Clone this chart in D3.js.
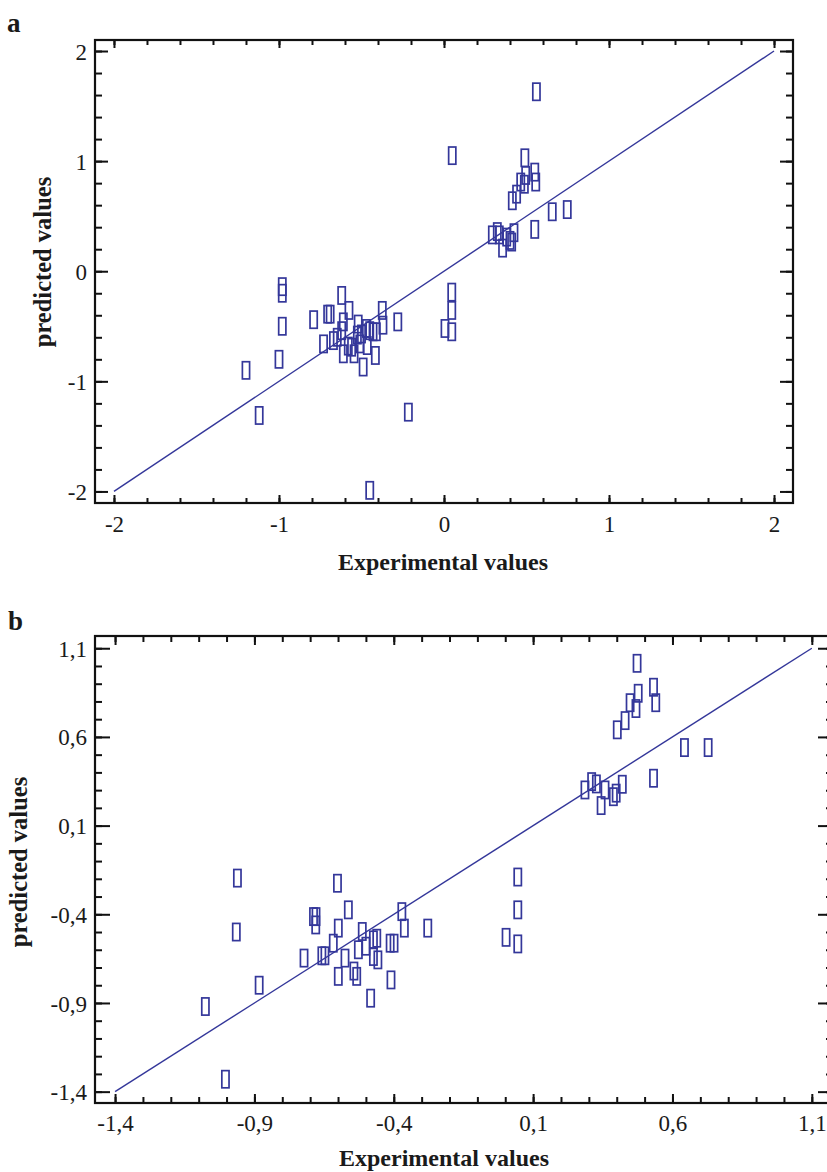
<!DOCTYPE html>
<html>
<head>
<meta charset="utf-8">
<script src="https://cdn.jsdelivr.net/npm/d3@7"></script>
<style>
  html, body { margin: 0; padding: 0; background: #fff; }
  svg { display: block; }
  text { font-family: "Liberation Serif", "Times New Roman", serif; fill: #1a1a1a; }
</style>
</head>
<body>
<svg id="chart" width="827" height="1172"></svg>
<script>
// ── panel a: experimental vs predicted ──
const aExp = [0.56, 0.49, 0.495, 0.55, 0.556, 0.465, 0.487, 0.44, 0.414, 0.656, 0.747, 0.55,
  0.293, 0.323, 0.335, 0.355, 0.38, 0.40, 0.424, 0.41, 0.05,
  -0.98, -0.98, -0.98, -1.0, -1.2, -1.12, -0.79, -0.705, -0.69, -0.73, -0.62, -0.576,
  -0.61, -0.62, -0.67, -0.647, -0.61, -0.58, -0.56, -0.545, -0.52, -0.525, -0.51, -0.50,
  -0.49, -0.47, -0.45, -0.43, -0.465, -0.416, -0.41, -0.374, -0.37, -0.28, -0.216,
  0.047, 0.047, 0.006, 0.047, -0.45];
const aPred = [1.63, 1.03, 0.87, 0.90, 0.81, 0.81, 0.79, 0.70, 0.64, 0.54, 0.56, 0.38,
  0.33, 0.36, 0.33, 0.21, 0.31, 0.28, 0.35, 0.265, 1.05,
  -0.14, -0.20, -0.50, -0.80, -0.90, -1.31, -0.44, -0.39, -0.39, -0.66, -0.22, -0.356,
  -0.46, -0.54, -0.63, -0.60, -0.75, -0.68, -0.69, -0.75, -0.48, -0.58, -0.66, -0.57,
  -0.87, -0.52, -0.54, -0.55, -0.675, -0.765, -0.55, -0.356, -0.49, -0.46, -1.28,
  -0.19, -0.356, -0.52, -0.55, -1.99];
const aTicks = [-2, -1, 0, 1, 2];

// ── panel b ──
const bExp = [0.473, 0.532, 0.477, 0.54, 0.448, 0.469, 0.43, 0.402, 0.643, 0.728, 0.532,
  0.286, 0.31, 0.327, 0.358, 0.344, 0.388, 0.398, 0.42,
  -0.961, -0.965, -0.883, -1.076, -1.004, -0.602, -0.688, -0.679, -0.68, -0.563, -0.599,
  -0.617, -0.722, -0.658, -0.647, -0.575, -0.599, -0.543, -0.533, -0.513, -0.527, -0.50,
  -0.473, -0.461, -0.473, -0.457, -0.483, -0.413, -0.399, -0.41, -0.371, -0.362, -0.278,
  0.045, 0.045, 0.003, 0.045];
const bPred = [1.015, 0.88, 0.846, 0.793, 0.793, 0.76, 0.692, 0.64, 0.54, 0.54, 0.367,
  0.301, 0.348, 0.335, 0.301, 0.213, 0.263, 0.283, 0.333,
  -0.196, -0.50, -0.80, -0.92, -1.33, -0.225, -0.413, -0.413, -0.46, -0.375, -0.478,
  -0.563, -0.647, -0.634, -0.634, -0.647, -0.75, -0.72, -0.75, -0.497, -0.60, -0.58,
  -0.544, -0.535, -0.638, -0.657, -0.873, -0.563, -0.563, -0.77, -0.385, -0.478, -0.478,
  -0.19, -0.375, -0.53, -0.567];
const bTicks = [-1.4, -0.9, -0.4, 0.1, 0.6, 1.1];

const blue = "#34379a";
const svg = d3.select("#chart");

const fmtA = d => String(d);
const fmtB = d => String(d).replace(".", ",");

function drawPanel(o) {
  const { left, top, right, bottom } = o;
  const x = d3.scaleLinear().domain(o.xDomain).range([left, right]);
  const y = d3.scaleLinear().domain(o.yDomain).range([bottom, top]);
  const g = svg.append("g");

  // ticks point inward; minors first, then majors
  const addAxis = (axisFn, scale, ticks, size, fmt, transform) => {
    const ax = axisFn(scale).tickValues(ticks).tickSize(-size).tickPadding(o.pad).tickFormat(fmt);
    const sel = g.append("g").attr("transform", transform).call(ax);
    sel.select(".domain").remove();
    sel.selectAll("line").attr("stroke", "#111").attr("stroke-width", 2);
    sel.selectAll("text").style("font-size", o.tickFont + "px").attr("fill", "#1a1a1a");
    return sel;
  };
  const none = () => "";

  addAxis(d3.axisLeft, y, o.yMinor, o.yMinorLen, none, `translate(${left},0)`);
  addAxis(d3.axisRight, y, o.yMinor, o.yMinorLen, none, `translate(${right},0)`);
  addAxis(d3.axisBottom, x, o.xMinor, o.xMinorLen, none, `translate(0,${bottom})`);
  addAxis(d3.axisTop, x, o.xMinor, o.xMinorLen, none, `translate(0,${top})`);

  addAxis(d3.axisLeft, y, o.ticks, o.yMajorLen, o.fmt, `translate(${left},0)`)
    .selectAll("text").attr("dy", "0.35em");
  addAxis(d3.axisRight, y, o.ticks, o.yMajorLen, none, `translate(${right},0)`);
  addAxis(d3.axisBottom, x, o.ticks, o.xMajorLen, o.fmt, `translate(0,${bottom})`)
    .selectAll("text").attr("dy", "0").attr("y", o.xLabelY);
  addAxis(d3.axisTop, x, o.ticks, o.xMajorLen, none, `translate(0,${top})`);

  // frame
  g.append("rect")
    .attr("x", left).attr("y", top)
    .attr("width", right - left).attr("height", bottom - top)
    .attr("fill", "none").attr("stroke", "#111").attr("stroke-width", 2.2);

  // identity line
  const lo = o.ticks[0], hi = o.ticks[o.ticks.length - 1];
  g.append("line")
    .attr("x1", x(lo)).attr("y1", y(lo))
    .attr("x2", x(hi)).attr("y2", y(hi))
    .attr("stroke", blue).attr("stroke-width", 1.4);

  // markers: hollow tall rectangles
  g.append("g").selectAll("rect")
    .data(o.xs.map((v, i) => [v, o.ys[i]]))
    .join("rect")
      .attr("x", d => x(d[0]) - 3.6)
      .attr("y", d => y(d[1]) - 8.6)
      .attr("width", 7.2)
      .attr("height", 17.2)
      .attr("fill", "none")
      .attr("stroke", blue)
      .attr("stroke-width", 1.7);

  // axis titles
  g.append("text")
    .attr("x", o.xTitleX)
    .attr("y", o.xTitleY)
    .attr("text-anchor", "middle")
    .style("font-size", "24px").style("font-weight", "bold")
    .text("Experimental values");
  g.append("text")
    .attr("transform", `translate(${o.yTitleX},${o.yTitleCY}) rotate(-90)`)
    .attr("text-anchor", "middle")
    .style("font-size", "24.5px").style("font-weight", "bold")
    .text("predicted values");

  // panel letter
  g.append("text")
    .attr("x", o.letterX).attr("y", o.letterY)
    .style("font-size", "27px").style("font-weight", "bold")
    .text(o.letter);
}

drawPanel({
  letter: "a", letterX: 7, letterY: 32,
  left: 95, top: 40, right: 793, bottom: 503,
  xDomain: [-2.115, 2.115], yDomain: [-2.105, 2.1],
  ticks: aTicks, fmt: fmtA,
  xMinor: d3.range(-10, 11).map(i => i / 5),
  yMinor: d3.range(-10, 11).map(i => i / 5),
  yMajorLen: 13, yMinorLen: 7, xMajorLen: 8, xMinorLen: 5,
  pad: 8, tickFont: 23, xLabelY: 29,
  xs: aExp, ys: aPred,
  xTitleX: 443, xTitleY: 570, yTitleX: 51, yTitleCY: 262
});

drawPanel({
  letter: "b", letterX: 8, letterY: 630,
  left: 95, top: 636, right: 833, bottom: 1103,
  xDomain: [-1.472, 1.176], yDomain: [-1.464, 1.169],
  ticks: bTicks, fmt: fmtB,
  xMinor: d3.range(-14, 12).map(i => i / 10),
  yMinor: d3.range(-14, 12).map(i => i / 10),
  yMajorLen: 15, yMinorLen: 7, xMajorLen: 9, xMinorLen: 6,
  pad: 8, tickFont: 23, xLabelY: 28,
  xs: bExp, ys: bPred,
  xTitleX: 444, xTitleY: 1166, yTitleX: 27, yTitleCY: 862
});
</script>
</body>
</html>
